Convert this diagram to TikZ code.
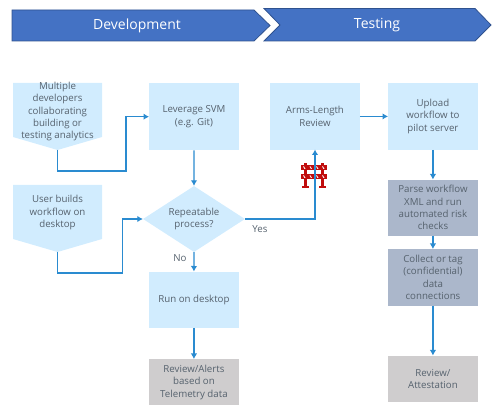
\documentclass[tikz,border=0pt]{standalone}
\usepackage{fontspec}
\setmainfont{Open Sans}
\usetikzlibrary{shapes.geometric,arrows.meta}
\definecolor{boxblue}{HTML}{D1ECFE}
\definecolor{slate}{HTML}{ABB7CB}
\definecolor{greybox}{HTML}{CFCDCE}
\definecolor{headfill}{HTML}{4472C4}
\definecolor{headline}{HTML}{2F528F}
\definecolor{txt}{HTML}{56626E}
\definecolor{conn}{HTML}{2A8BD0}
\definecolor{barr}{HTML}{C00D0D}
\tikzset{
  x=1pt,y=-1pt,
  every node/.style={font=\fontsize{9.7}{12.3}\selectfont,text=txt,align=center,inner sep=0pt},
  head/.style={fill=headfill,draw=headline,line width=0.8pt},
  headtext/.style={font=\fontsize{14}{16}\selectfont,text=white},
  proc/.style={rectangle,fill=#1,minimum width=89.5pt,anchor=north west},
  flow/.style={draw=conn,line width=1.2pt,-{Latex[length=5.5pt,width=6.5pt]}},
  label/.style={font=\fontsize{9.7}{12.3}\selectfont},
  decision/.style={diamond,fill=boxblue,aspect=1.55,minimum width=102pt,minimum height=66pt},
}
\begin{document}
\begin{tikzpicture}
\useasboundingbox (0,0) rectangle (501,411);
% headers
\draw[head] (12,10) -- (254,10) -- (270,25.5) -- (254,41) -- (12,41) -- cycle;
\node[headtext] (dev) at (137,25.5) {Development};
\draw[head] (264,8.5) -- (475,8.5) -- (491,25) -- (475,41) -- (264,41) -- (280,25) -- cycle;
\node[headtext] (test) at (377,25) {Testing};
% pentagons
\fill[boxblue] (13,83) -- (102,83) -- (102,137) -- (57.5,150) -- (13,137) -- cycle;
\node (multi) at (57.5,111.5) {Multiple\\developers\\collaborating\\building or\\testing analytics};
\coordinate (multitip) at (57.5,150);
\fill[boxblue] (13,185) -- (102,185) -- (102,239) -- (57.5,252) -- (13,239) -- cycle;
\node (user) at (57.5,212.5) {User builds\\workflow on\\desktop};
\coordinate (usertip) at (57.5,252);
% process boxes
\node[proc=boxblue,minimum height=67pt] (svm) at (149,83) {Leverage SVM\\(e.g. Git)};
\node[decision] (rep) at (194,219) {Repeatable\\process?};
\node[proc=boxblue,minimum height=56pt] (run) at (149,271.5) {Run on desktop};
\node[proc=greybox,minimum height=46pt] (alerts) at (149,359) {Review/Alerts\\based on\\Telemetry data};
\node[proc=boxblue,minimum height=66.5pt] (arms) at (270,83) {Arms-Length\\Review};
\node[proc=boxblue,minimum height=66.5pt] (upload) at (388,83) {Upload\\workflow to\\pilot server};
\node[proc=slate,minimum height=56pt] (parse) at (388,179.5) {Parse workflow\\XML and run\\automated risk\\checks};
\node[proc=slate,minimum height=56.5pt] (collect) at (388,249) {Collect or tag\\(confidential)\\data\\connections};
\node[proc=greybox,minimum height=46pt] (attest) at (388,355.5) {Review/\\Attestation};
% barricade
\begin{scope}[barr]
  \fill (303.5,163) rectangle (306.5,187);
  \fill (320.5,163) rectangle (323.5,187);
  \fill (302,186) rectangle (308.5,188);
  \fill (319,186) rectangle (325.5,188);
  \fill (300.5,165) rectangle (326.5,170);
  \fill (300.5,174) rectangle (326.5,179);
  \foreach \sx in {303,309.5,316,322} {
    \fill[white] (\sx,166.5) -- (\sx+1,166.5) -- (\sx+2.5,169) -- (\sx+1.5,169) -- cycle;
    \fill[white] (\sx,175.5) -- (\sx+1,175.5) -- (\sx+2.5,178) -- (\sx+1.5,178) -- cycle;
  }
\end{scope}
% connectors
\draw[flow] (multitip) |- (126,171) |- (svm.west);
\draw[flow] (usertip) |- (122.5,273) |- (rep.west);
\draw[flow] (svm.south) -- (rep.north);
\draw[flow] (rep.south) -- (run.north);
\draw[flow] (run.south) -- (alerts.north -| run.south);
\draw[flow] (rep.east) -| (315,149.5);
\draw[flow] (arms.east) -- (upload.west);
\draw[flow] (upload.south) -- (parse.north);
\draw[flow] (parse.south) -- (collect.north);
\draw[flow] (collect.south) -- (attest.north);
\node[label] (yes) at (260,229) {Yes};
\node[label] (no) at (180,258) {No};
\end{tikzpicture}
\end{document}
